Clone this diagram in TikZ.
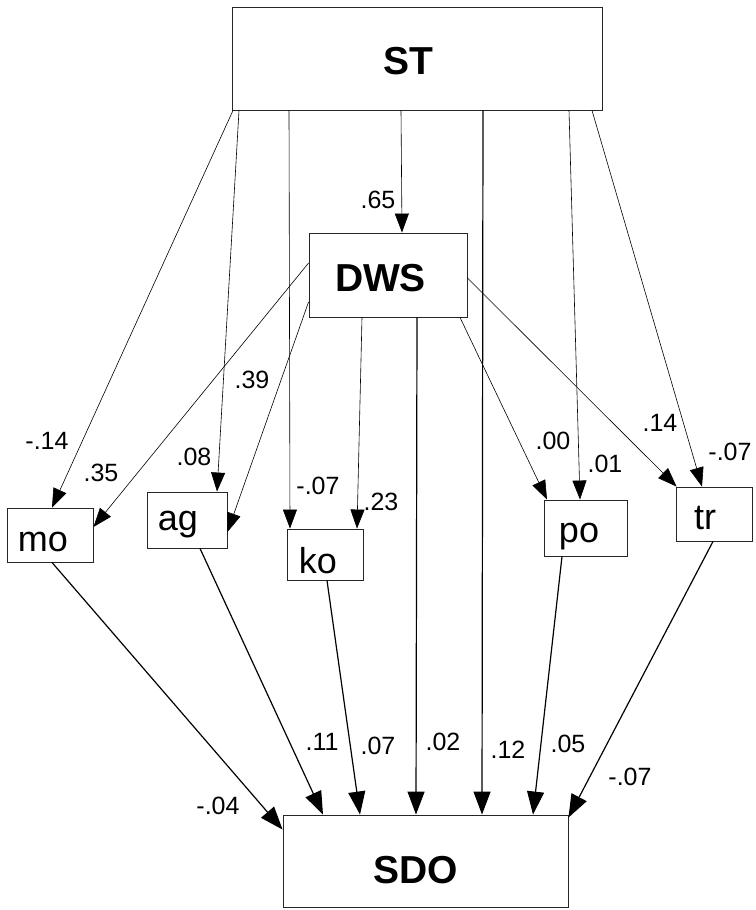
\documentclass[tikz,border=0pt]{standalone}
\usepackage{fontspec}
\setmainfont{Liberation Sans}
\usetikzlibrary{arrows.meta}
\begin{document}
\begin{tikzpicture}[x=1pt,y=-1pt,
  box/.style={draw=black!85, line width=0.9pt, inner sep=0pt, rectangle},
  big/.style={font=\fontsize{39}{39}\selectfont\bfseries, inner sep=0pt},
  small/.style={font=\fontsize{36}{36}\selectfont, inner sep=0pt},
  coef/.style={font=\fontsize{25}{25}\selectfont, inner sep=0pt},
  up/.style={line width=0.6pt, -{Triangle[length=19pt,width=14pt]}},
  low/.style={line width=1.2pt, -{Triangle[length=23pt,width=17pt]}}]
\useasboundingbox (0,0) rectangle (755,910);
% boxes
\node[box, minimum width=370pt, minimum height=103pt] (ST) at (417,58.5) {};
\node[box, minimum width=158pt, minimum height=84pt] (DWS) at (388,275) {};
\node[box, minimum width=86pt, minimum height=54pt] (mo) at (50,535) {};
\node[box, minimum width=80pt, minimum height=56pt] (ag) at (187,520) {};
\node[box, minimum width=76pt, minimum height=51pt] (ko) at (325,554.5) {};
\node[box, minimum width=83pt, minimum height=56pt] (po) at (585.5,528) {};
\node[box, minimum width=76pt, minimum height=54pt] (tr) at (714,514) {};
\node[box, minimum width=285pt, minimum height=92pt] (SDO) at (425.5,861) {};
% box texts
\node[big] (STt) at (408,61) {ST};
\node[big] (DWSt) at (380.5,278.5) {DWS};
\node[big] (SDOt) at (415.5,870) {SDO};
\node[small] (mot) at (43,542) {mo};
\node[small] (agt) at (178,525) {ag};
\node[small] (kot) at (318,561) {ko};
\node[small] (pot) at (579,537) {po};
\node[small] (trt) at (705,518) {tr};
% ST paths
\draw[up] ([xshift=-184pt]ST.south) -- ([xshift=2pt]mo.north);
\draw[up] ([xshift=-178pt]ST.south) -- ([xshift=30pt]ag.north);
\draw[up] ([xshift=-128pt]ST.south) -- ([xshift=-35pt]ko.north);
\draw[up] ([xshift=-16pt]ST.south) -- ([xshift=14pt]DWS.north);
\draw[low] ([xshift=66pt]ST.south) -- ([xshift=56.5pt]SDO.north);
\draw[up] ([xshift=152pt]ST.south) -- ([xshift=-5.5pt]po.north);
\draw[up] ([xshift=175pt]ST.south) -- ([xshift=-12pt]tr.north);
% DWS paths
\draw[up] ([yshift=12pt]DWS.west) -- ([yshift=8pt]mo.east);
\draw[up] ([yshift=-27pt]DWS.west) -- ([yshift=-12pt]ag.east);
\draw[up] ([xshift=-26pt]DWS.south) -- ([xshift=32pt]ko.north);
\draw[low] ([xshift=29pt]DWS.south) -- ([xshift=-9.5pt]SDO.north);
\draw[up] ([xshift=72pt]DWS.south) -- ([xshift=-38.5pt]po.north);
\draw[up] ([yshift=-3pt]DWS.east) -- ([xshift=1pt]tr.north west);
% to SDO
\draw[low] ([xshift=2pt]mo.south) -- ([yshift=-15pt]SDO.north west);
\draw[low] ([xshift=13pt]ag.south) -- ([xshift=-102.5pt]SDO.north);
\draw[low] ([xshift=2pt]ko.south) -- ([xshift=-65.5pt]SDO.north);
\draw[low] ([xshift=-23.5pt]po.south) -- ([xshift=107.5pt]SDO.north);
\draw[low] ([xshift=-1pt]tr.south) -- ([yshift=-3pt]SDO.north east);
% coefficients
\node[coef] (c1) at (378,200) {.65};
\node[coef] (c2) at (47,441) {-.14};
\node[coef] (c3) at (101,473) {.35};
\node[coef] (c4) at (194,457) {.08};
\node[coef] (c5) at (252,380) {.39};
\node[coef] (c6) at (318,486) {-.07};
\node[coef] (c7) at (381,502) {.23};
\node[coef] (c8) at (553,441) {.00};
\node[coef] (c9) at (605,464) {.01};
\node[coef] (c10) at (660,423) {.14};
\node[coef] (c11) at (730,452) {-.07};
\node[coef] (c12) at (322,742) {.11};
\node[coef] (c13) at (378,746) {.07};
\node[coef] (c14) at (443,742) {.02};
\node[coef] (c15) at (508,750) {.12};
\node[coef] (c16) at (568,744) {.05};
\node[coef] (c17) at (630,777) {-.07};
\node[coef] (c18) at (218,806) {-.04};
\end{tikzpicture}
\end{document}
